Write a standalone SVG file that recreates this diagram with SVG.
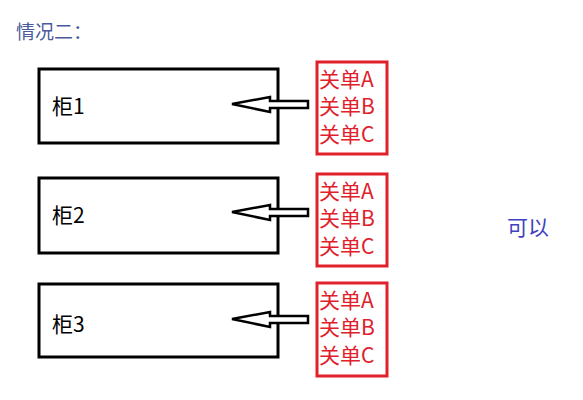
<svg xmlns="http://www.w3.org/2000/svg" width="583" height="400" viewBox="0 0 583 400">
<style>
.box{fill:#fff;stroke:#000;stroke-width:3}
.rbox{fill:#fff;stroke:#e0202a;stroke-width:3}
.arr{fill:#fff;stroke:#000;stroke-width:2.5;stroke-linejoin:miter}
.lbl{font-family:"Microsoft YaHei","Noto Sans CJK SC",sans-serif;font-size:21px;fill:#000}
.red{font-family:"Microsoft YaHei","Noto Sans CJK SC",sans-serif;font-size:21px;fill:#e0202a}
.title{font-family:"Microsoft YaHei","Noto Sans CJK SC",sans-serif;font-size:19px;fill:#4a5a9a}
.ok{font-family:"Microsoft YaHei","Noto Sans CJK SC",sans-serif;font-size:21px;fill:#4040c0}
</style>
<rect width="583" height="400" fill="#fff"/>
<text class="title" x="16" y="39">情况二：</text>
<g id="cab1">
<rect class="box" x="39" y="69" width="239" height="74"/>
<text class="lbl" x="52" y="114">柜1</text>
</g>
<g id="cab2">
<rect class="box" x="39" y="178" width="239" height="75"/>
<text class="lbl" x="52" y="223">柜2</text>
</g>
<g id="cab3">
<rect class="box" x="39" y="284" width="239" height="73"/>
<text class="lbl" x="52" y="332">柜3</text>
</g>
<g id="orders1">
<rect class="rbox" x="317" y="62" width="70" height="92"/>
<text class="red" x="319" y="87">关单A</text>
<text class="red" x="319" y="114">关单B</text>
<text class="red" x="319" y="142">关单C</text>
</g>
<g id="orders2">
<rect class="rbox" x="317" y="174" width="70" height="92"/>
<text class="red" x="319" y="199">关单A</text>
<text class="red" x="319" y="226">关单B</text>
<text class="red" x="319" y="254">关单C</text>
</g>
<g id="orders3">
<rect class="rbox" x="317" y="283" width="70" height="93"/>
<text class="red" x="319" y="308">关单A</text>
<text class="red" x="319" y="335">关单B</text>
<text class="red" x="319" y="363">关单C</text>
</g>
<g id="connectors">
<path class="arr" d="M232,104 L270,97 L270,101 L308,101 L308,108 L270,108 L270,112 Z"/>
<path class="arr" d="M232,212 L270,205 L270,209 L308,209 L308,216 L270,216 L270,220 Z"/>
<path class="arr" d="M232,319 L270,312 L270,316 L308,316 L308,323 L270,323 L270,327 Z"/>
</g>
<text class="ok" x="507" y="235">可以</text>
</svg>
